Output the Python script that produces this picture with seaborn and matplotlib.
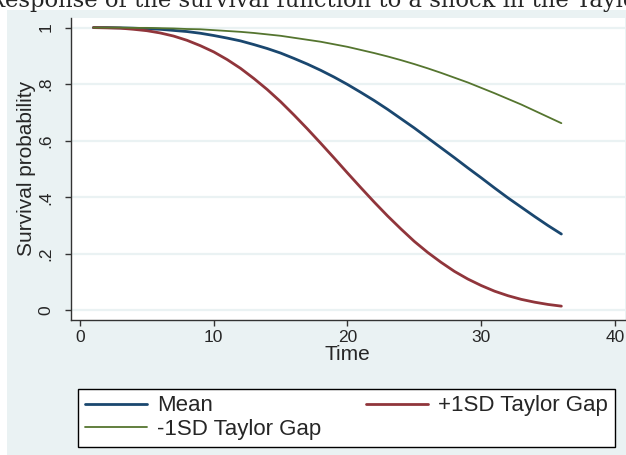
import numpy as np
import pandas as pd
import seaborn as sns
import matplotlib.pyplot as plt
from matplotlib.patches import Rectangle

# survival probabilities, t = 1..36
time = list(range(1, 37))
mean_surv = [1.000, 1.000, 0.999, 0.998, 0.996, 0.994, 0.990, 0.986, 0.980, 0.972,
             0.963, 0.953, 0.940, 0.926, 0.910, 0.891, 0.871, 0.849, 0.825, 0.799,
             0.771, 0.742, 0.711, 0.678, 0.645, 0.610, 0.575, 0.540, 0.504, 0.469,
             0.433, 0.398, 0.365, 0.332, 0.300, 0.270]
plus_sd = [1.000, 0.999, 0.998, 0.994, 0.989, 0.981, 0.970, 0.955, 0.936, 0.914,
           0.887, 0.856, 0.820, 0.781, 0.738, 0.691, 0.642, 0.591, 0.539, 0.486,
           0.434, 0.383, 0.334, 0.288, 0.244, 0.205, 0.170, 0.138, 0.111, 0.088,
           0.068, 0.052, 0.039, 0.029, 0.021, 0.015]
minus_sd = [1.000, 1.000, 1.000, 0.999, 0.999, 0.998, 0.997, 0.995, 0.994, 0.991,
            0.988, 0.985, 0.981, 0.976, 0.971, 0.964, 0.957, 0.950, 0.941, 0.932,
            0.921, 0.910, 0.898, 0.885, 0.871, 0.856, 0.840, 0.823, 0.806, 0.787,
            0.768, 0.748, 0.728, 0.706, 0.684, 0.662]

series = ["Mean", "+1SD Taylor Gap", "-1SD Taylor Gap"]
colors = ["#1a476f", "#90353b", "#55752f"]
widths = [2.0, 2.0, 1.3]

yticks = [0, 0.2, 0.4, 0.6, 0.8, 1]
ytick_labels = ["0", ".2", ".4", ".6", ".8", "1"]
xticks = [0, 10, 20, 30, 40]

df = pd.DataFrame({
    "time": time * 3,
    "surv": mean_surv + plus_sd + minus_sd,
    "series": [s for s in series for _ in time],
})

sns.set_style("white")
plt.rcParams["font.family"] = ["Liberation Sans", "DejaVu Sans"]

bg = "#eaf2f3"
fig = plt.figure(figsize=(6.26, 4.55), dpi=100, facecolor="white")
fig.patches.append(Rectangle((7 / 626, 0), 1, 1 - 10 / 455, transform=fig.transFigure,
                             facecolor=bg, edgecolor="none", zorder=-1))
ax = fig.add_axes([70.7 / 626, 1 - 320 / 455, (625 - 70.7) / 626, (320 - 17.7) / 455])
ax.set_facecolor("white")

for name, col, lw in zip(series, colors, widths):
    sns.lineplot(data=df[df["series"] == name], x="time", y="surv", color=col,
                 linewidth=lw, label=name, ax=ax, legend=False)

ax.set_xlim(-0.7, 40.76)
ax.set_ylim(-0.034, 1.035)
ax.set_yticks(yticks)
ax.set_yticklabels(ytick_labels, rotation=90, va="center")
ax.set_xticks(xticks)
ax.yaxis.grid(True, color=bg, linewidth=1.6)
ax.xaxis.grid(False)
ax.set_axisbelow(True)
for s in ["top", "right"]:
    ax.spines[s].set_visible(False)
for s in ["left", "bottom"]:
    ax.spines[s].set_color("#333333")
    ax.spines[s].set_linewidth(1.0)
ax.tick_params(axis="both", direction="out", length=4.5, width=1, color="#333333",
               labelsize=12.5, left=True, bottom=True)
ax.tick_params(axis="y", pad=8)
ax.tick_params(axis="x", pad=3)
ax.set_xlabel("Time", fontsize=15, labelpad=0)
ax.set_ylabel("Survival probability", fontsize=15, labelpad=2)

# column-major fill: Mean / -1SD in the first column, +1SD in the second
lines = ax.get_lines()[:3]
order = [0, 2, 1]
leg = fig.legend([lines[i] for i in order], [series[i] for i in order], loc="lower left",
                 bbox_to_anchor=(78 / 626, 1 - 446.7 / 455, 537 / 626, 64.4 / 455),
                 mode="expand", ncol=2, fontsize=16, frameon=True, fancybox=False,
                 edgecolor="black", framealpha=1, handlelength=2.8, handletextpad=0.45,
                 labelspacing=0.12, borderpad=0.3, borderaxespad=0)
leg.get_frame().set_linewidth(1.0)

fig.text(-12 / 626, 1 - 7 / 455, "Response of the survival function to a shock in the Taylor Gap",
         family="DejaVu Serif", fontsize=16.3, ha="left", va="baseline")

fig.savefig("out.png", dpi=100, facecolor="white")
